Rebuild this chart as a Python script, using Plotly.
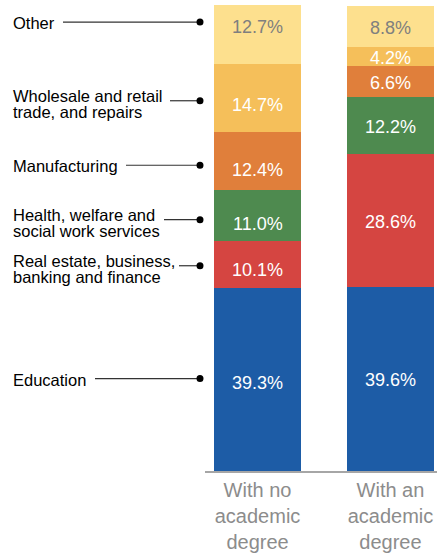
import plotly.graph_objects as go

# ---- data ----
categories = ["With no<br>academic<br>degree", "With an<br>academic<br>degree"]
sectors = [
    "Education",
    "Real estate, business,|banking and finance",
    "Health, welfare and|social work services",
    "Manufacturing",
    "Wholesale and retail|trade, and repairs",
    "Other",
]
no_degree = [39.3, 10.1, 11.0, 12.4, 14.7, 12.7]
with_degree = [39.6, 28.6, 12.2, 6.6, 4.2, 8.8]

# ---- style ----
colors = ["#1d5ca6", "#d54541", "#4e8a4f", "#e07f3b", "#f5bf5a", "#fde08e"]
label_colors = ["white", "white", "white", "white", "white", "#7f7f7f"]
W, H = 439, 555
ML, MR, MT, MB = 205, 2, 5, 82
PW = W - ML - MR
# pixel offsets (down positive) of leader dots relative to the first bar's segment centres
dot_shift = [-1, 1, 4, 4, 2.5, -12.5]
line_start_px = [95, 179, 164, 126, 170, 63]
text_left_px = 11
dot_px = 200


def px_to_paper(px):
    return (px - ML) / PW


ymax = max(sum(no_degree), sum(with_degree))

fig = go.Figure()
for i, s in enumerate(sectors):
    fig.add_trace(go.Bar(
        x=[0, 1], y=[no_degree[i], with_degree[i]],
        name=s.replace("|", " "), marker=dict(color=colors[i], line=dict(width=0)),
        hoverinfo="skip",
    ))

annotations = []
shapes = []
cum = [0.0, 0.0]
for i, s in enumerate(sectors):
    vals = [no_degree[i], with_degree[i]]
    mids = []
    for j in range(2):
        mids.append(cum[j] + vals[j] / 2)
        cum[j] += vals[j]
    # in-bar labels
    for j in range(2):
        ys = -dot_shift[i] - 4.5 if j == 0 else -1.5
        annotations.append(dict(
            x=j, y=mids[j], xref="x", yref="y", text=f"{vals[j]:.1f}%",
            showarrow=False, yshift=ys,
            font=dict(family="Liberation Sans, Arial", size=18, color=label_colors[i]),
        ))
    # left labels
    lines = s.split("|")
    if len(lines) == 1:
        offs = [1]
    else:
        offs = [-4.5, 11]
    for k, ln in enumerate(lines):
        annotations.append(dict(
            x=px_to_paper(text_left_px), y=mids[0], xref="paper", yref="y",
            xanchor="left", yanchor="middle", text=ln, showarrow=False,
            yshift=-(dot_shift[i] + offs[k]),
            font=dict(family="Liberation Sans, Arial", size=16.5, color="black"),
        ))
    yp = mids[0] / ymax
    shapes.append(dict(
        type="line", xref="paper", yref="paper", x0=px_to_paper(line_start_px[i]),
        x1=px_to_paper(dot_px), ysizemode="pixel", yanchor=yp,
        y0=-dot_shift[i], y1=-dot_shift[i], line=dict(color="#333333", width=1.2),
    ))
    shapes.append(dict(
        type="circle", xref="paper", yref="paper", xsizemode="pixel", ysizemode="pixel",
        xanchor=px_to_paper(dot_px), yanchor=yp, x0=-3.5, x1=3.5,
        y0=-dot_shift[i] - 3.5, y1=-dot_shift[i] + 3.5,
        fillcolor="black", line=dict(width=0),
    ))

fig.update_layout(
    width=W, height=H, barmode="stack", bargap=0.346,
    margin=dict(l=ML, r=MR, t=MT, b=MB),
    paper_bgcolor="white", plot_bgcolor="white", showlegend=False,
    annotations=annotations, shapes=shapes,
    xaxis=dict(
        range=[-0.395, 1.35], tickmode="array", tickvals=[0, 1], ticktext=categories,
        showline=True, linecolor="#a6a6a6", linewidth=1.5, showgrid=False, zeroline=False,
        ticks="", tickfont=dict(family="Liberation Sans, Arial", size=20, color="#8c8c8c"),
    ),
    yaxis=dict(range=[0, ymax], visible=False),
)

fig.write_html(
    "out.html",
    config={"displayModeBar": False},
    post_script="document.body.style.margin='0px';document.body.style.overflow='hidden';",
)
